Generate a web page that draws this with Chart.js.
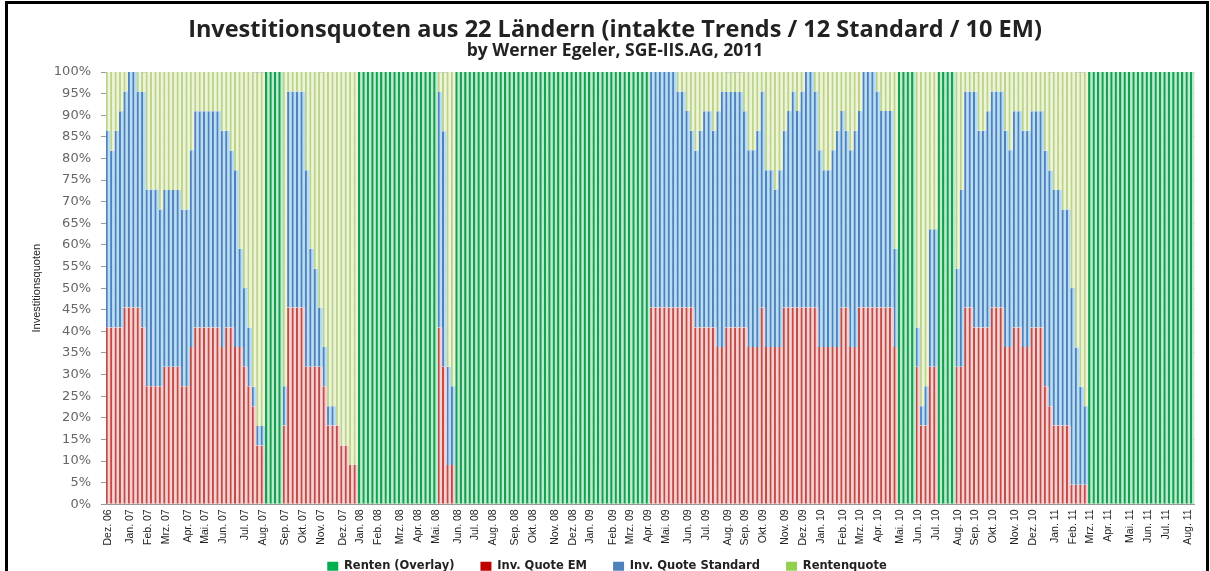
<!DOCTYPE html>
<html lang="de">
<head>
<meta charset="utf-8">
<title>Investitionsquoten aus 22 Ländern</title>
<script src="https://cdn.jsdelivr.net/npm/chart.js@4.4.1/dist/chart.umd.min.js"></script>
<style>
  html, body { margin: 0; padding: 0; background: #fff; }
  #wrap { position: relative; width: 1210px; height: 571px; overflow: hidden; }
  #frame { position: absolute; left: 5px; top: 1px; width: 1204px; height: 600px;
           box-sizing: border-box; border: 3px solid #000; border-bottom: none; pointer-events: none; }
</style>
</head>
<body>
<div id="wrap">
  <canvas id="quotenChart" width="1210" height="571"></canvas>
  <div id="frame"></div>
</div>
<script>
// weekly values (Fridays, Dez. 06 .. Aug. 11), in percent; _ = no value that week
const _ = null, O = 100;

// Renten (Overlay): whole portfolio in bonds
const overlay = [
  _,_,_,_,_,_,_,_,_,_,  _,_,_,_,_,_,_,_,_,_,  _,_,_,_,_,_,_,_,_,_,  _,_,_,_,_,_,O,O,O,O,
  _,_,_,_,_,_,_,_,_,_,  _,_,_,_,_,_,_,O,O,O,  O,O,O,O,O,O,O,O,O,O,  O,O,O,O,O,_,_,_,_,O,
  O,O,O,O,O,O,O,O,O,O,  O,O,O,O,O,O,O,O,O,O,  O,O,O,O,O,O,O,O,O,O,  O,O,O,O,O,O,O,O,O,O,
  O,O,O,_,_,_,_,_,_,_,  _,_,_,_,_,_,_,_,_,_,  _,_,_,_,_,_,_,_,_,_,  _,_,_,_,_,_,_,_,_,_,
  _,_,_,_,_,_,_,_,_,_,  _,_,_,_,_,_,_,_,_,O,  O,O,O,_,_,_,_,_,O,O,  O,O,_,_,_,_,_,_,_,_,
  _,_,_,_,_,_,_,_,_,_,  _,_,_,_,_,_,_,_,_,_,  _,_,O,O,O,O,O,O,O,O,  O,O,O,O,O,O,O,O,O,O,
  O,O,O,O,O,O
];

const quoteEM = [
  40.9,40.9,40.9,40.9,45.5,45.5,45.5,45.5,40.9,27.3,
  27.3,27.3,27.3,31.8,31.8,31.8,31.8,27.3,27.3,36.4,
  40.9,40.9,40.9,40.9,40.9,40.9,36.4,40.9,40.9,36.4,
  36.4,31.8,27.3,22.7,13.6,13.6,_,_,_,_,
  18.2,45.5,45.5,45.5,45.5,31.8,31.8,31.8,31.8,27.3,
  18.2,18.2,18.2,13.6,13.6,9.1,9.1,_,_,_,
  _,_,_,_,_,_,_,_,_,_,
  _,_,_,_,_,40.9,31.8,9.1,9.1,_,
  _,_,_,_,_,_,_,_,_,_,  _,_,_,_,_,_,_,_,_,_,
  _,_,_,_,_,_,_,_,_,_,  _,_,_,_,_,_,_,_,_,_,
  _,_,_,45.5,45.5,45.5,45.5,45.5,45.5,45.5,
  45.5,45.5,45.5,40.9,40.9,40.9,40.9,40.9,36.4,36.4,
  40.9,40.9,40.9,40.9,40.9,36.4,36.4,36.4,45.5,36.4,
  36.4,36.4,36.4,45.5,45.5,45.5,45.5,45.5,45.5,45.5,
  45.5,36.4,36.4,36.4,36.4,36.4,45.5,45.5,36.4,36.4,
  45.5,45.5,45.5,45.5,45.5,45.5,45.5,45.5,36.4,_,
  _,_,_,31.8,18.2,18.2,31.8,31.8,_,_,
  _,_,31.8,31.8,45.5,45.5,40.9,40.9,40.9,40.9,
  45.5,45.5,45.5,36.4,36.4,40.9,40.9,36.4,36.4,40.9,
  40.9,40.9,27.3,22.7,18.2,18.2,18.2,18.2,4.5,4.5,
  4.5,4.5,_,_,_,_,_,_,_,_,
  _,_,_,_,_,_,_,_,_,_,
  _,_,_,_,_,_
];

const quoteStandard = [
  45.5,40.9,45.5,50,50,54.5,54.5,50,54.5,45.5,
  45.5,45.5,40.9,40.9,40.9,40.9,40.9,40.9,40.9,45.5,
  50,50,50,50,50,50,50,45.5,40.9,40.9,
  22.7,18.2,13.6,4.5,4.5,4.5,_,_,_,_,
  9.1,50,50,50,50,45.5,27.3,22.7,13.6,9.1,
  4.5,4.5,0,0,0,0,0,_,_,_,
  _,_,_,_,_,_,_,_,_,_,
  _,_,_,_,_,54.5,54.5,22.7,18.2,_,
  _,_,_,_,_,_,_,_,_,_,  _,_,_,_,_,_,_,_,_,_,
  _,_,_,_,_,_,_,_,_,_,  _,_,_,_,_,_,_,_,_,_,
  _,_,_,54.5,54.5,54.5,54.5,54.5,54.5,50,
  50,45.5,40.9,40.9,45.5,50,50,45.5,54.5,59.1,
  54.5,54.5,54.5,54.5,50,45.5,45.5,50,50,40.9,
  40.9,36.4,40.9,40.9,45.5,50,45.5,50,54.5,54.5,
  50,45.5,40.9,40.9,45.5,50,45.5,40.9,45.5,50,
  45.5,54.5,54.5,54.5,50,45.5,45.5,45.5,22.7,_,
  _,_,_,9.1,4.5,9.1,31.8,31.8,_,_,
  _,_,22.7,40.9,50,50,54.5,45.5,45.5,50,
  50,50,50,50,45.5,50,50,50,50,50,
  50,50,54.5,54.5,54.5,54.5,50,50,45.5,31.8,
  22.7,18.2,_,_,_,_,_,_,_,_,
  _,_,_,_,_,_,_,_,_,_,
  _,_,_,_,_,_
];

const rentenquote = [
  13.6,18.2,13.6,9.1,4.5,0,0,4.5,4.5,27.3,
  27.3,27.3,31.8,27.3,27.3,27.3,27.3,31.8,31.8,18.2,
  9.1,9.1,9.1,9.1,9.1,9.1,13.6,13.6,18.2,22.7,
  40.9,50,59.1,72.7,81.8,81.8,_,_,_,_,
  72.7,4.5,4.5,4.5,4.5,22.7,40.9,45.5,54.5,63.6,
  77.3,77.3,81.8,86.4,86.4,90.9,90.9,_,_,_,
  _,_,_,_,_,_,_,_,_,_,
  _,_,_,_,_,4.5,13.6,68.2,72.7,_,
  _,_,_,_,_,_,_,_,_,_,  _,_,_,_,_,_,_,_,_,_,
  _,_,_,_,_,_,_,_,_,_,  _,_,_,_,_,_,_,_,_,_,
  _,_,_,0,0,0,0,0,0,4.5,
  4.5,9.1,13.6,18.2,13.6,9.1,9.1,13.6,9.1,4.5,
  4.5,4.5,4.5,4.5,9.1,18.2,18.2,13.6,4.5,22.7,
  22.7,27.3,22.7,13.6,9.1,4.5,9.1,4.5,0,0,
  4.5,18.2,22.7,22.7,18.2,13.6,9.1,13.6,18.2,13.6,
  9.1,0,0,0,4.5,9.1,9.1,9.1,40.9,_,
  _,_,_,59.1,77.3,72.7,36.4,36.4,_,_,
  _,_,45.5,27.3,4.5,4.5,4.5,13.6,13.6,9.1,
  4.5,4.5,4.5,13.6,18.2,9.1,9.1,13.6,13.6,9.1,
  9.1,9.1,18.2,22.7,27.3,27.3,31.8,31.8,50,63.6,
  72.7,77.3,_,_,_,_,_,_,_,_,
  _,_,_,_,_,_,_,_,_,_,
  _,_,_,_,_,_
];

// month labels and the week (index) where each month starts
const tickLabels = [
  'Dez. 06','Jan. 07','Feb. 07','Mrz. 07','Apr. 07','Mai. 07','Jun. 07','Jul. 07','Aug. 07','Sep. 07','Okt. 07','Nov. 07','Dez. 07',
  'Jan. 08','Feb. 08','Mrz. 08','Apr. 08','Mai. 08','Jun. 08','Jul. 08','Aug. 08','Sep. 08','Okt. 08','Nov. 08','Dez. 08',
  'Jan. 09','Feb. 09','Mrz. 09','Apr. 09','Mai. 09','Jun. 09','Jul. 09','Aug. 09','Sep. 09','Okt. 09','Nov. 09','Dez. 09',
  'Jan. 10','Feb. 10','Mrz. 10','Apr. 10','Mai. 10','Jun. 10','Jul. 10','Aug. 10','Sep. 10','Okt. 10','Nov. 10','Dez. 10',
  'Jan. 11','Feb. 11','Mrz. 11','Apr. 11','Mai. 11','Jun. 11','Jul. 11','Aug. 11'
];
const tickWeeks = [
  0,5,9,13,18,22,26,31,35,40,44,48,53,
  57,61,66,70,74,79,83,87,92,96,101,105,
  109,114,118,122,126,131,135,140,144,148,153,157,
  161,166,170,174,179,183,187,192,196,200,205,209,
  214,218,222,226,231,235,239,244
];

const legendColors = ['#00B050', '#C00000', '#4F81BD', '#92D050'];

// one category per Friday starting 1 Dec 2006
const weeks = overlay.map((v, i) => new Date(2006, 11, 1 + 7 * i).toLocaleDateString('de-DE'));

function barSet(label, data, line, fill, edge) {
  return {
    label: label,
    data: data,
    backgroundColor: fill,
    borderColor: line,
    borderWidth: { left: edge, right: 0, top: 0, bottom: 0 },
    borderSkipped: false,
    barPercentage: 1,
    categoryPercentage: 1
  };
}

const ctx = document.getElementById('quotenChart').getContext('2d');
const quotenChart = new Chart(ctx, {
  type: 'bar',
  data: {
    labels: weeks,
    datasets: [
      barSet('Renten (Overlay)', overlay, '#14A04E', '#BDEBCF', 2.6),
      barSet('Inv. Quote EM', quoteEM, '#C24B48', '#F4D2D1', 2),
      barSet('Inv. Quote Standard', quoteStandard, '#4F81BD', '#B9DDF2', 2),
      barSet('Rentenquote', rentenquote, '#BCD38E', '#EEF5D6', 2)
    ]
  },
  options: {
    responsive: false,
    animation: false,
    layout: { padding: { left: 26, right: 6, top: 0, bottom: -11 } },
    scales: {
      x: {
        stacked: true,
        grid: { display: false, drawTicks: false },
        border: { display: true, color: '#999' },
        ticks: {
          autoSkip: false,
          minRotation: 90,
          maxRotation: 90,
          padding: 5,
          color: '#222',
          font: { family: 'Liberation Sans', size: 10.5 },
          callback: (v, i) => {
            const k = tickWeeks.indexOf(i);
            return k >= 0 ? tickLabels[k] : '';
          }
        }
      },
      y: {
        stacked: true,
        min: 0,
        max: 100,
        z: 1,
        afterFit: (scale) => { scale.width = 80; },
        grid: { color: 'rgba(110,110,110,0.45)', tickLength: 5, tickColor: '#999' },
        border: { display: true, color: '#999' },
        ticks: {
          stepSize: 5,
          padding: 10,
          color: '#666',
          font: { family: 'DejaVu Sans', size: 13 },
          callback: (v) => v + '%'
        },
        title: {
          display: true,
          text: 'Investitionsquoten',
          color: '#222',
          font: { family: 'Liberation Sans', size: 11 },
          padding: { top: 4, bottom: 4 }
        }
      }
    },
    plugins: {
      title: {
        display: true,
        text: 'Investitionsquoten aus 22 Ländern (intakte Trends / 12 Standard / 10 EM)',
        color: '#222',
        font: { family: 'Open Sans', size: 23.5, weight: 'bold', lineHeight: 1 },
        padding: { top: 19, bottom: 0 }
      },
      subtitle: {
        display: true,
        text: 'by Werner Egeler, SGE-IIS.AG, 2011',
        color: '#222',
        font: { family: 'Open Sans', size: 17.5, weight: 'bold', lineHeight: 1 },
        padding: { top: 0, bottom: 12 }
      },
      legend: {
        position: 'bottom',
        labels: {
          boxWidth: 11,
          boxHeight: 9,
          padding: 10,
          color: '#222',
          font: { family: 'DejaVu Sans', size: 11.5, weight: 'bold' },
          generateLabels: (chart) => {
            const items = Chart.defaults.plugins.legend.labels.generateLabels(chart);
            items.forEach((it, i) => {
              it.text = it.text + '    ';
              it.fillStyle = legendColors[i];
              it.strokeStyle = legendColors[i];
              it.lineWidth = 0;
            });
            return items;
          }
        }
      },
      tooltip: { enabled: false }
    }
  }
});
</script>
</body>
</html>
